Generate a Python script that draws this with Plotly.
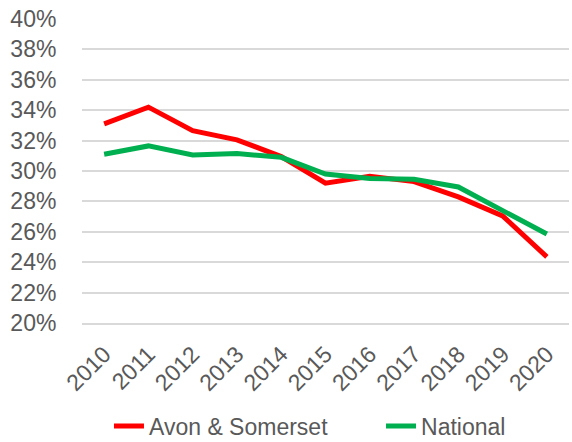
import plotly.graph_objects as go

years = ["2010", "2011", "2012", "2013", "2014", "2015", "2016", "2017", "2018", "2019", "2020"]
avon = [33.1, 34.2, 32.65, 32.05, 30.95, 29.2, 29.65, 29.3, 28.3, 27.05, 24.35]
national = [31.1, 31.65, 31.05, 31.15, 30.9, 29.8, 29.5, 29.45, 28.95, 27.4, 25.85]
y_ticks = [20, 22, 24, 26, 28, 30, 32, 34, 36, 38, 40]

FONT = "Liberation Sans, Arial, sans-serif"
GREY = "#595959"

fig = go.Figure()
fig.add_trace(go.Scatter(x=years, y=avon, mode="lines", name="Avon & Somerset",
                         line=dict(color="#FF0000", width=5), legend="legend"))
fig.add_trace(go.Scatter(x=years, y=national, mode="lines", name="National",
                         line=dict(color="#00B050", width=5), legend="legend2"))

legend_common = dict(orientation="h", xanchor="left", yref="container", y=0.036,
                     yanchor="middle", font=dict(size=23, color=GREY),
                     bgcolor="rgba(0,0,0,0)")

fig.update_layout(
    width=572, height=442,
    margin=dict(l=82, r=3, t=19, b=119),
    paper_bgcolor="white", plot_bgcolor="white",
    font=dict(family=FONT, size=23, color=GREY),
    showlegend=True,
    legend=dict(x=0.0554, **legend_common),
    legend2=dict(x=0.614, **legend_common),
    xaxis=dict(type="category", range=[-0.5, len(years) - 0.5], tickangle=-45,
               showgrid=False, showline=True,
               linecolor="#D9D9D9", linewidth=1.5, ticks="outside", ticklen=7,
               tickcolor="rgba(0,0,0,0)", automargin=False, zeroline=False,
               tickfont=dict(size=23, color=GREY)),
    yaxis=dict(range=[20, 40], tickvals=y_ticks, ticktext=[f"{v}%" for v in y_ticks],
               showgrid=True, gridcolor="#D9D9D9", gridwidth=1.5, zeroline=False,
               showline=False, ticks="outside", ticklen=20, tickcolor="rgba(0,0,0,0)",
               automargin=False, tickfont=dict(size=23, color=GREY)),
)

fig.write_html("out.html", config={"responsive": False, "displayModeBar": False},
               post_script="document.body.style.margin='0';document.body.style.overflow='hidden';")
